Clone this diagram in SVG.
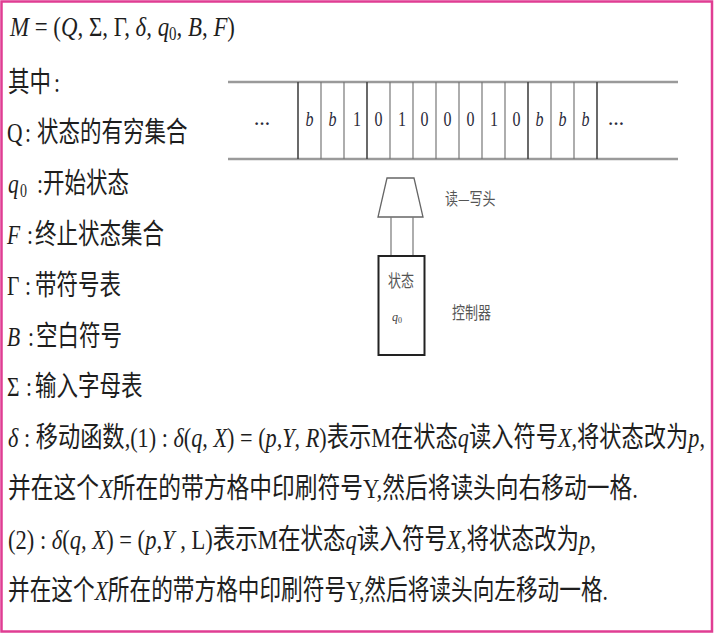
<svg xmlns="http://www.w3.org/2000/svg" width="715" height="636" viewBox="0 0 715 636">
<style>
.t{font-family:"Liberation Serif","Noto Sans CJK SC",serif;font-size:21.5px;fill:#1e1e1e}
.cj{font-family:"Noto Sans CJK SC",sans-serif}
.i{font-style:italic;font-family:"Liberation Serif",serif}
.u{font-family:"Liberation Serif",serif}
.sym{font-family:"Liberation Serif",serif;font-size:16px;fill:#2a2a3a;text-anchor:middle}
.sm{font-family:"Noto Sans CJK SC",sans-serif;font-size:13px;fill:#555}
.tape{stroke:#9a9a9a;stroke-width:2.5}
.dv{stroke:#777;stroke-width:1.2}
.dk{stroke:#444;stroke-width:1.6}
</style>
<rect x="0" y="0" width="715" height="636" fill="#ffffff"/>
<rect x="1.5" y="1.5" width="710.5" height="630" fill="none" stroke="#e03d93" stroke-width="2.5"/>

<g id="definitions">
<text class="t" transform="translate(10,36) scale(1,1.3)" textLength="225" lengthAdjust="spacingAndGlyphs"><tspan class="i">M</tspan><tspan class="u"> = (</tspan><tspan class="i">Q</tspan><tspan class="u">, Σ, Γ, </tspan><tspan class="i">δ</tspan><tspan class="u">, </tspan><tspan class="i">q</tspan><tspan class="u" font-size="14" dy="3">0</tspan><tspan class="u" dy="-3">, </tspan><tspan class="i">B</tspan><tspan class="u">, </tspan><tspan class="i">F</tspan><tspan class="u">)</tspan></text>
<text class="t" transform="translate(0,91.5) scale(1,1.3)"><tspan class="cj" x="8">其中</tspan><tspan class="u" x="54">:</tspan></text>
<text class="t" transform="translate(0,142) scale(1,1.3)"><tspan class="u" x="7">Q</tspan><tspan class="u" x="25">:</tspan><tspan class="cj" x="37">状态的有穷集合</tspan></text>
<text class="t" transform="translate(0,193) scale(1,1.3)"><tspan class="i" x="8">q</tspan><tspan class="u" x="20" font-size="14" dy="3">0</tspan><tspan class="u" x="37" dy="-3">:</tspan><tspan class="cj" x="43">开始状态</tspan></text>
<text class="t" transform="translate(0,244) scale(1,1.3)"><tspan class="i" x="7">F</tspan><tspan class="u" x="27">:</tspan><tspan class="cj" x="35">终止状态集合</tspan></text>
<text class="t" transform="translate(0,294.5) scale(1,1.3)"><tspan class="u" x="7">Γ</tspan><tspan class="u" x="25">:</tspan><tspan class="cj" x="35">带符号表</tspan></text>
<text class="t" transform="translate(0,345.5) scale(1,1.3)"><tspan class="i" x="7">B</tspan><tspan class="u" x="28">:</tspan><tspan class="cj" x="36">空白符号</tspan></text>
<text class="t" transform="translate(0,396) scale(1,1.3)"><tspan class="u" x="7">Σ</tspan><tspan class="u" x="26">:</tspan><tspan class="cj" x="35">输入字母表</tspan></text>
<text class="t" transform="translate(8,447) scale(1,1.3)" textLength="697" lengthAdjust="spacingAndGlyphs"><tspan class="i">δ</tspan><tspan class="u"> : </tspan><tspan class="cj">移动函数</tspan><tspan class="u">,(1) : </tspan><tspan class="i">δ</tspan><tspan class="u">(</tspan><tspan class="i">q</tspan><tspan class="u">, </tspan><tspan class="i">X</tspan><tspan class="u">) = (</tspan><tspan class="i">p</tspan><tspan class="u">,</tspan><tspan class="i">Y</tspan><tspan class="u">, </tspan><tspan class="i">R</tspan><tspan class="u">)</tspan><tspan class="cj">表示</tspan><tspan class="u">M</tspan><tspan class="cj">在状态</tspan><tspan class="i">q</tspan><tspan class="cj">读入符号</tspan><tspan class="i">X</tspan><tspan class="u">,</tspan><tspan class="cj">将状态改为</tspan><tspan class="i">p</tspan><tspan class="u">,</tspan></text>
<text class="t" transform="translate(8,498) scale(1,1.3)" textLength="630" lengthAdjust="spacingAndGlyphs"><tspan class="cj">并在这个</tspan><tspan class="i">X</tspan><tspan class="cj">所在的带方格中印刷符号</tspan><tspan class="u">Y,</tspan><tspan class="cj">然后将读头向右移动一格</tspan><tspan class="u">.</tspan></text>
<text class="t" transform="translate(8,548.5) scale(1,1.3)" textLength="588" lengthAdjust="spacingAndGlyphs"><tspan class="u">(2) : </tspan><tspan class="i">δ</tspan><tspan class="u">(</tspan><tspan class="i">q</tspan><tspan class="u">, </tspan><tspan class="i">X</tspan><tspan class="u">) = (</tspan><tspan class="i">p</tspan><tspan class="u">,</tspan><tspan class="i">Y</tspan><tspan class="u"> , L)</tspan><tspan class="cj">表示</tspan><tspan class="u">M</tspan><tspan class="cj">在状态</tspan><tspan class="i">q</tspan><tspan class="cj">读入符号</tspan><tspan class="i">X</tspan><tspan class="u">,</tspan><tspan class="cj">将状态改为</tspan><tspan class="i">p</tspan><tspan class="u">,</tspan></text>
<text class="t" transform="translate(8,599.5) scale(1,1.3)" textLength="600" lengthAdjust="spacingAndGlyphs"><tspan class="cj">并在这个</tspan><tspan class="i">X</tspan><tspan class="cj">所在的带方格中印刷符号</tspan><tspan class="u">Y,</tspan><tspan class="cj">然后将读头向左移动一格</tspan><tspan class="u">.</tspan></text>
</g>

<g id="tape">
<line class="tape" x1="228" y1="82" x2="678" y2="82"/>
<line class="tape" x1="228" y1="159" x2="678" y2="159"/>
<line class="dk" x1="298" y1="82" x2="298" y2="159"/>
<line class="dv" x1="321" y1="82" x2="321" y2="159"/>
<line class="dv" x1="344" y1="82" x2="344" y2="159"/>
<line class="dk" x1="367" y1="82" x2="367" y2="159"/>
<line class="dv" x1="390" y1="82" x2="390" y2="159"/>
<line class="dv" x1="413" y1="82" x2="413" y2="159"/>
<line class="dv" x1="436" y1="82" x2="436" y2="159"/>
<line class="dv" x1="459" y1="82" x2="459" y2="159"/>
<line class="dv" x1="482" y1="82" x2="482" y2="159"/>
<line class="dv" x1="505" y1="82" x2="505" y2="159"/>
<line class="dk" x1="528" y1="82" x2="528" y2="159"/>
<line class="dv" x1="551" y1="82" x2="551" y2="159"/>
<line class="dv" x1="574" y1="82" x2="574" y2="159"/>
<line class="dk" x1="597" y1="82" x2="597" y2="159"/>
<text class="sym" x="262" y="125" font-weight="bold">…</text>
<text class="sym" x="616" y="125" font-weight="bold">…</text>
<g transform="translate(0,126) scale(1,1.25)">
<text class="sym" x="309.5" y="0" font-style="italic">b</text>
<text class="sym" x="332.5" y="0" font-style="italic">b</text>
<text class="sym" x="357" y="0">1</text>
<text class="sym" x="378.5" y="0">0</text>
<text class="sym" x="402" y="0">1</text>
<text class="sym" x="424.5" y="0">0</text>
<text class="sym" x="447.5" y="0">0</text>
<text class="sym" x="470.5" y="0">0</text>
<text class="sym" x="494" y="0">1</text>
<text class="sym" x="516.5" y="0">0</text>
<text class="sym" x="539.5" y="0" font-style="italic">b</text>
<text class="sym" x="562.5" y="0" font-style="italic">b</text>
<text class="sym" x="585.5" y="0" font-style="italic">b</text>
</g>
</g>

<g id="head">
<polygon points="387,178 414,178 423,217 378,217" fill="#fff" stroke="#666" stroke-width="1.3"/>
<text class="sm" transform="translate(445,205) scale(1,1.3)" font-size="14">读—写头</text>
</g>

<g id="connectors">
<line x1="391" y1="217" x2="391" y2="256" stroke="#777" stroke-width="1.2"/>
<line x1="413" y1="217" x2="413" y2="256" stroke="#777" stroke-width="1.2"/>
</g>

<g id="controller">
<rect x="378.5" y="256" width="46" height="99" fill="none" stroke="#222" stroke-width="2"/>
<text class="sm" transform="translate(401,287) scale(1,1.3)" text-anchor="middle">状态</text>
<text class="u" x="397" y="321" font-size="12" font-style="italic" fill="#444" text-anchor="middle">q<tspan font-size="8" dy="2" font-style="normal">0</tspan></text>
<text class="sm" transform="translate(452,319) scale(1,1.3)" font-size="14">控制器</text>
</g>
</svg>
